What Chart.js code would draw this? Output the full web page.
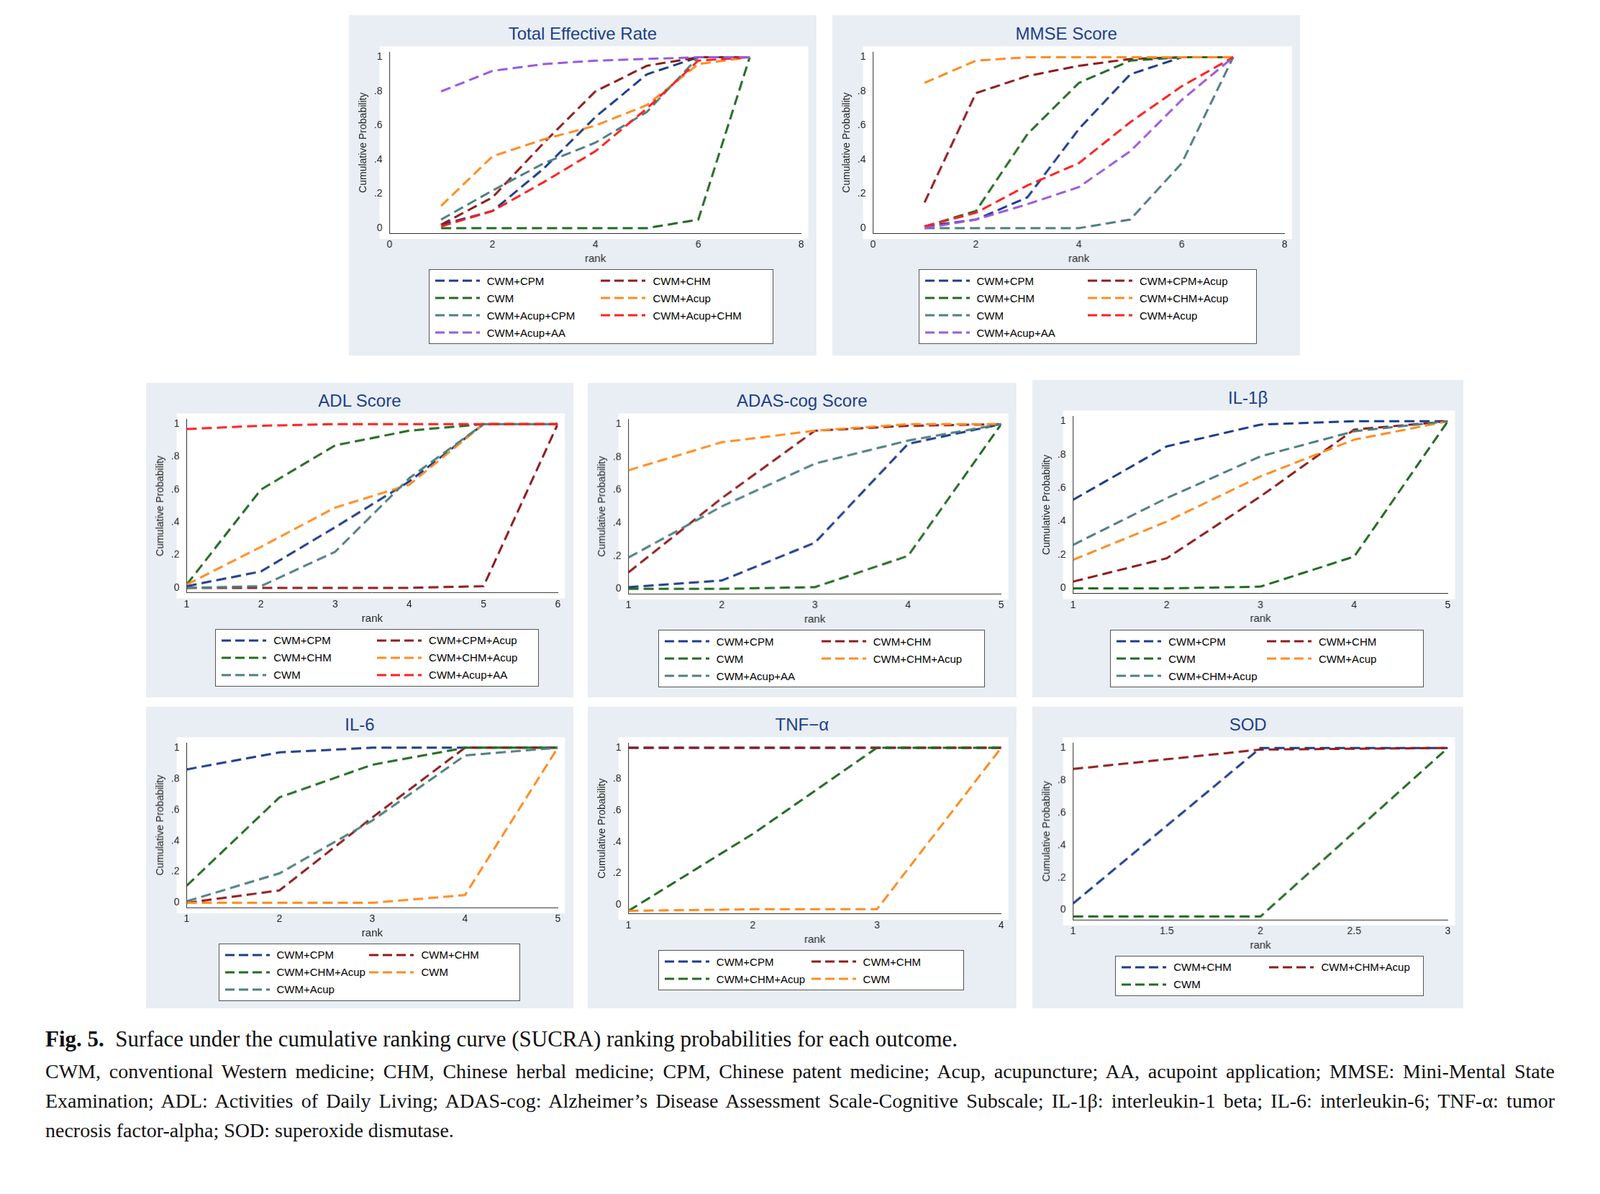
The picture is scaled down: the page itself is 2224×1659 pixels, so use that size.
<!DOCTYPE html>
<html><head><meta charset="utf-8">
<script src="https://cdn.jsdelivr.net/npm/chart.js@4"></script>
<style>
body{margin:0;width:2224px;height:1659px;background:#fff;position:relative;overflow:hidden;font-family:"Liberation Sans",Arial,sans-serif}
.panel{position:absolute;background:#e8eef3}
.title{position:absolute;left:0;right:0;text-align:center;color:#1e3f8a;font-size:24px}
.cv{position:absolute}
.leg{position:absolute;background:#fff;border:1px solid #555;display:grid;grid-template-columns:1fr 1fr;padding:4px 8px;box-sizing:border-box;font-size:15px;row-gap:2px}
.leg div{display:flex;align-items:center;white-space:nowrap;height:22px}
.leg svg{margin-right:10px}
.cap{position:absolute;left:63px;font-family:"Liberation Serif",serif;color:#111}
</style></head><body>
<script>
const C={navy:'#1c3c8c',dred:'#8e1c1c',green:'#226b22',orange:'#ff8c1f',teal:'#4f7f7f',red:'#ff2020',purple:'#9a5ae0'};
// ---- data ----
const terLabels=['CWM+CPM','CWM+CHM','CWM','CWM+Acup','CWM+Acup+CPM','CWM+Acup+CHM','CWM+Acup+AA'];
const terCPM=[0.02,0.10,0.35,0.65,0.90,1,1];
const terCHM=[0.02,0.18,0.50,0.80,0.95,1,1];
const terCWM=[0,0,0,0,0,0.05,1];
const terAcup=[0.13,0.42,0.52,0.60,0.72,0.96,1];
const terAcupCPM=[0.05,0.22,0.38,0.50,0.68,1,1];
const terAcupCHM=[0.01,0.10,0.27,0.45,0.70,0.98,1];
const terAcupAA=[0.80,0.92,0.96,0.98,0.99,1,1];
const mmLabels=['CWM+CPM','CWM+CPM+Acup','CWM+CHM','CWM+CHM+Acup','CWM','CWM+Acup','CWM+Acup+AA'];
const mmCPM=[0.01,0.05,0.18,0.58,0.90,1,1];
const mmCPMAcup=[0.15,0.79,0.89,0.95,0.99,1,1];
const mmCHM=[0.01,0.10,0.55,0.85,0.98,1,1];
const mmCHMAcup=[0.85,0.98,1,1,1,1,1];
const mmCWM=[0,0,0,0,0.05,0.38,1];
const mmAcup=[0.01,0.09,0.25,0.38,0.62,0.83,1];
const mmAcupAA=[0,0.05,0.14,0.24,0.45,0.75,1];
const adlLabels=['CWM+CPM','CWM+CPM+Acup','CWM+CHM','CWM+CHM+Acup','CWM','CWM+Acup+AA'];
const adlCPM=[0.01,0.10,0.37,0.65,1,1];
const adlCPMAcup=[0,0,0,0,0.01,1];
const adlCHM=[0.02,0.60,0.87,0.96,1,1];
const adlCHMAcup=[0.02,0.25,0.49,0.63,1,1];
const adlCWM=[0,0.01,0.22,0.67,1,1];
const adlAcupAA=[0.97,0.99,1,1,1,1];
const adasLabels=['CWM+CPM','CWM+CHM','CWM','CWM+CHM+Acup','CWM+Acup+AA'];
const adasCPM=[0.01,0.05,0.28,0.88,1];
const adasCHM=[0.10,0.55,0.96,0.99,1];
const adasCWM=[0,0,0.01,0.20,1];
const adasCHMAcup=[0.72,0.89,0.96,1,1];
const adasAcupAA=[0.19,0.50,0.76,0.90,1];
const il1Labels=['CWM+CPM','CWM+CHM','CWM','CWM+Acup','CWM+CHM+Acup'];
const il1CPM=[0.53,0.85,0.98,1,1];
const il1CHM=[0.04,0.18,0.55,0.95,1];
const il1CWM=[0,0,0.01,0.19,1];
const il1Acup=[0.17,0.40,0.67,0.89,1];
const il1CHMAcup=[0.26,0.54,0.79,0.94,1];
const il6Labels=['CWM+CPM','CWM+CHM','CWM+CHM+Acup','CWM','CWM+Acup'];
const il6CPM=[0.86,0.97,1,1,1];
const il6CHM=[0,0.08,0.55,1,1];
const il6CHMAcup=[0.11,0.68,0.89,1,1];
const il6CWM=[0,0,0,0.05,1];
const il6Acup=[0.01,0.19,0.53,0.95,1];
const tnfLabels=['CWM+CPM','CWM+CHM','CWM+CHM+Acup','CWM'];
const tnfCPM=[1,1,1,1];
const tnfCHM=[1,1,1,1];
const tnfCHMAcup=[-0.04,0.45,1,1];
const tnfCWM=[-0.04,-0.03,-0.03,1];
const sodLabels=['CWM+CHM','CWM+CHM+Acup','CWM'];
const sodCHM=[0.04,1,1];
const sodCHMAcup=[0.87,0.99,1];
const sodCWM=[-0.04,-0.04,1];

const S=2224/1568;
const panels=[
 {t:'Total Effective Rate',r:[342,15,458,333],lg:[420,264,338],labels:terLabels,series:[terCPM,terCHM,terCWM,terAcup,terAcupCPM,terAcupCHM,terAcupAA],cols:[C.navy,C.dred,C.green,C.orange,C.teal,C.red,C.purple],x:[0,8,2],ymin:-0.03},
 {t:'MMSE Score',r:[816,15,458,333],lg:[900,264,332],labels:mmLabels,series:[mmCPM,mmCPMAcup,mmCHM,mmCHMAcup,mmCWM,mmAcup,mmAcupAA],cols:[C.navy,C.dred,C.green,C.orange,C.teal,C.red,C.purple],x:[0,8,2],ymin:-0.03},
 {t:'ADL Score',r:[143,375,419,308],lg:[211,616,317],labels:adlLabels,series:[adlCPM,adlCPMAcup,adlCHM,adlCHMAcup,adlCWM,adlAcupAA],cols:[C.navy,C.dred,C.green,C.orange,C.teal,C.red],x:[1,6,1],ymin:-0.03},
 {t:'ADAS-cog Score',r:[576,375,420,308],lg:[645,617,320],labels:adasLabels,series:[adasCPM,adasCHM,adasCWM,adasCHMAcup,adasAcupAA],cols:[C.navy,C.dred,C.green,C.orange,C.teal],x:[1,5,1],ymin:-0.03},
 {t:'IL-1β',r:[1012,372,422,311],lg:[1088,617,307],labels:il1Labels,series:[il1CPM,il1CHM,il1CWM,il1Acup,il1CHMAcup],cols:[C.navy,C.dred,C.green,C.orange,C.teal],x:[1,5,1],ymin:-0.03},
 {t:'IL-6',r:[143,692,419,296],lg:[214,924,296],labels:il6Labels,series:[il6CPM,il6CHM,il6CHMAcup,il6CWM,il6Acup],cols:[C.navy,C.dred,C.green,C.orange,C.teal],x:[1,5,1],ymin:-0.03},
 {t:'TNF−α',r:[576,692,420,296],lg:[645,931,300],labels:tnfLabels,series:[tnfCPM,tnfCHM,tnfCHMAcup,tnfCWM],cols:[C.navy,C.dred,C.green,C.orange],x:[1,4,1],ymin:-0.06,order:[3,2,1,0]},
 {t:'SOD',r:[1012,692,422,296],lg:[1093,936,302],labels:sodLabels,series:[sodCHM,sodCHMAcup,sodCWM],cols:[C.navy,C.dred,C.green],x:[1,3,0.5],ymin:-0.06},
];
const bgPlugin={id:'bg',beforeDraw(c){const a=c.chartArea,x=c.ctx;x.save();x.fillStyle='#fff';x.fillRect(a.left-14,a.top-8,a.right-a.left+24,a.bottom-a.top+16);x.restore();}};
const yT=[0,0.2,0.4,0.6,0.8,1],yL={0:'0',0.2:'.2',0.4:'.4',0.6:'.6',0.8:'.8',1:'1'};
panels.forEach(p=>{
 const [px,py,pw,ph]=p.r.map(v=>v*S);
 const d=document.createElement('div');d.className='panel';
 Object.assign(d.style,{left:px+'px',top:py+'px',width:pw+'px',height:ph+'px'});
 document.body.appendChild(d);
 const t=document.createElement('div');t.className='title';t.textContent=p.t;t.style.top=(8*S)+'px';d.appendChild(t);
 const lgTop=(p.lg[1]-p.r[1])*S;
 const cw=document.createElement('div');cw.className='cv';
 Object.assign(cw.style,{left:'4px',top:(27*S)+'px',width:(pw-8)+'px',height:(lgTop-27*S-2)+'px'});
 const cv=document.createElement('canvas');cw.appendChild(cv);d.appendChild(cw);
 const lg=document.createElement('div');lg.className='leg';
 Object.assign(lg.style,{left:((p.lg[0]-p.r[0])*S)+'px',top:lgTop+'px',width:(p.lg[2]*S)+'px'});
 p.labels.forEach((l,i)=>{const e=document.createElement('div');
  e.innerHTML=`<svg width="62" height="6"><line x1="0" y1="3" x2="62" y2="3" stroke="${p.cols[i]}" stroke-width="3" stroke-dasharray="13 6"/></svg>${l}`;lg.appendChild(e);});
 d.appendChild(lg);
 const ds=p.series.map((s,i)=>({label:p.labels[i],data:s.map((v,k)=>({x:k+1,y:v})),borderColor:p.cols[i],borderWidth:3,borderDash:[14,7],pointRadius:0,fill:false,tension:0,order:p.order?p.order[i]:p.series.length-i}));
 const xv=[];for(let v=p.x[0];v<=p.x[1]+1e-9;v+=p.x[2])xv.push(+v.toFixed(2));
 new Chart(cv,{type:'line',data:{datasets:ds},plugins:[bgPlugin],options:{animation:false,responsive:true,maintainAspectRatio:false,
  layout:{padding:{left:4,right:18,top:10,bottom:0}},
  plugins:{legend:{display:false},tooltip:{enabled:false}},
  scales:{
   x:{type:'linear',min:p.x[0],max:p.x[1],grid:{display:false,drawTicks:true,tickLength:6,color:'#333'},border:{color:'#333'},
     afterBuildTicks:a=>{a.ticks=xv.map(v=>({value:v}));},
     ticks:{color:'#222',font:{size:14},padding:2,maxRotation:0,callback:v=>String(v)},
     title:{display:true,text:'rank',color:'#222',font:{size:15},padding:{top:0}}},
   y:{type:'linear',min:p.ymin,max:1.03,grid:{display:false,tickLength:6},border:{color:'#333'},
     afterBuildTicks:a=>{a.ticks=yT.map(v=>({value:v}));},
     ticks:{color:'#222',font:{size:14},padding:4,callback:v=>yL[v]??''},
     title:{display:true,text:'Cumulative Probability',color:'#222',font:{size:14},padding:{bottom:2}}}
  }}});
});
</script>
<div class="cap" style="top:1426px;font-size:31px"><b>Fig. 5.</b>&nbsp; Surface under the cumulative ranking curve (SUCRA) ranking probabilities for each outcome.</div>
<div class="cap" style="top:1468px;font-size:28px;line-height:41px;width:2098px;text-align:justify">CWM, conventional Western medicine; CHM, Chinese herbal medicine; CPM, Chinese patent medicine; Acup, acupuncture; AA, acupoint application; MMSE: Mini-Mental State Examination; ADL: Activities of Daily Living; ADAS-cog: Alzheimer’s Disease Assessment Scale-Cognitive Subscale; IL-1β: interleukin-1 beta; IL-6: interleukin-6; TNF-α: tumor necrosis factor-alpha; SOD: superoxide dismutase.</div>
</body></html>
